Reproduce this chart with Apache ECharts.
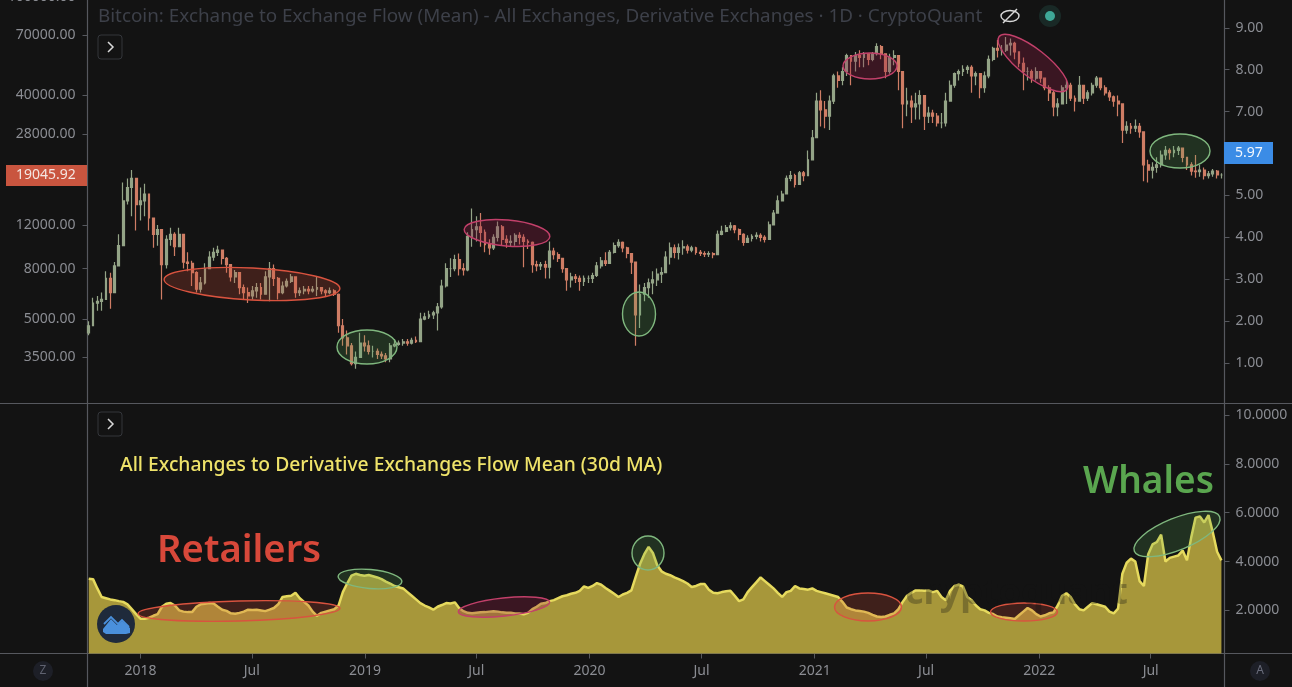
<!DOCTYPE html>
<html>
<head>
<meta charset="utf-8">
<style>
  html, body { margin: 0; padding: 0; background: #131313; }
  #main { width: 1292px; height: 687px; }
</style>
<script src="https://cdn.jsdelivr.net/npm/echarts@6/dist/echarts.min.js"></script>
</head>
<body>
<div id="main"></div>
<script>
// weekly readings, first candle is the week of 2017-10-09
const firstOpen = 4400;
const closes = [
  4700,5800,5900,6000,7300,6400,8200,9900,15000,17000,
  18500,14500,15000,16000,12800,11000,11500,8300,10500,11000,
  9800,11000,8500,8400,7700,6600,7000,8000,8900,9300,
  9500,8800,8300,7400,7700,6700,6400,6200,6500,6700,
  6300,7400,8000,7300,6400,6800,7100,7400,6400,6500,
  6600,6500,6600,6700,6500,6400,6500,6300,4700,4200,
  3900,3300,3500,4000,3900,3700,3700,3600,3550,3450,
  3900,3950,4000,4050,4000,4100,4050,5000,5100,5200,
  5300,5600,6800,8000,8000,8700,8000,7900,10800,11500,
  11800,11200,10000,9700,10700,11800,10500,10200,10300,10900,
  10700,10300,10200,8300,8200,8300,8100,9400,9100,8800,
  8000,7200,7400,7300,7100,7300,7300,7500,8200,8600,
  8400,9300,9900,10200,9700,9200,8500,5200,6300,6700,
  7000,7200,7600,7700,8900,9700,9300,9700,9800,9500,
  9700,9300,9200,9150,9200,9100,11000,11300,11700,11900,
  11500,11000,10200,10600,10800,10900,10700,10500,12000,13400,
  15000,16000,18500,19000,17500,19500,19000,22000,27000,38000,
  35000,33000,38000,48000,46000,50000,58000,55000,58000,57000,
  59000,56000,59000,63000,59000,50000,57000,58000,50000,37000,
  38000,36000,37000,40000,33000,34000,33000,31000,31000,38000,
  44000,49000,50000,51000,52000,48000,49000,43000,48000,56000,
  62000,61000,61000,64000,65000,60000,54000,50000,50000,47000,
  50000,47000,43000,41000,36000,37000,43000,44000,39000,38000,
  44000,39000,41000,44000,47000,43000,41000,39500,38000,37000,
  29000,30000,29500,30000,28500,21000,20000,20500,21000,23000,
  24000,23500,24000,24500,22500,21000,19800,19700,20000,19000,
  19300,19800,19100,19100
];
const highs = [
  4900,6100,6200,6400,7800,7700,8500,11000,17800,18500,
  20000,17500,17000,17600,14500,12800,12000,11500,10900,11700,
  11200,11700,11000,9300,8600,7800,7400,8400,9400,9700,
  9900,9500,8900,8300,7900,7700,6900,6700,6800,7000,
  7000,7800,8500,8300,7400,7100,7300,7600,7400,6700,
  6800,6800,6800,7400,6700,6600,6700,6600,6350,5000,
  4500,4000,3700,4400,4300,4100,3900,3800,3700,3650,
  4000,4150,4100,4150,4150,4200,4250,5300,5300,5400,
  5400,5800,7200,8400,8800,9100,9200,8400,11200,14000,
  13000,13400,11500,10500,11000,12400,12000,10900,10900,11100,
  11200,11000,10500,10300,8600,8500,8600,10300,9700,9300,
  8800,8000,7700,7600,7500,7500,7500,7700,8500,8900,
  9300,9500,10200,10500,10300,9800,9200,8000,6900,7000,
  7300,7800,8000,8100,9400,10200,10000,10100,10400,10000,
  9900,9800,9500,9400,9400,9300,11400,11900,12000,12300,
  12000,11600,11100,10900,11000,11200,11100,10900,12400,13800,
  15800,16500,19000,19800,19300,19800,19800,24000,29000,41000,
  42000,38000,40000,49000,50000,52000,59000,58000,60000,61000,
  60000,59000,60000,65000,64000,59000,59000,61000,58000,50000,
  43000,40000,41000,42000,40000,36000,35000,34000,34000,41000,
  46000,49500,51000,53000,53000,53000,50000,49000,50000,58000,
  63000,67000,64000,69000,68000,66000,60000,57000,52000,51000,
  52000,50000,47000,44000,42000,39000,44000,46000,45000,40000,
  48000,44000,42000,45000,48000,47000,44000,42000,40000,40000,
  36000,31500,31000,32000,31000,28500,22000,21500,22500,24000,
  25000,24500,25000,25000,24500,22500,21500,23000,21000,20500,
  19800,20200,20000,19400
];
const lows = [
  4300,4700,5400,5400,6000,5500,6400,8200,9900,14500,
  13000,11400,12500,13000,11400,9700,9900,6000,8000,9900,
  9000,9800,8000,7800,6800,6400,6400,6900,8000,8600,
  9000,8300,7700,7100,7000,6300,6000,5800,6000,6100,
  6000,6300,5900,6800,6000,6300,6700,7000,6100,6200,
  6300,6300,6400,6200,6300,6200,6300,6200,4400,3900,
  3600,3250,3150,3500,3700,3600,3500,3450,3450,3350,
  3350,3850,3900,3900,3900,3950,4000,4050,4950,5000,
  5000,4500,5500,6700,7400,7800,7500,7500,7800,9800,
  10300,9800,9300,9100,9500,10300,9900,9700,9800,9900,
  10000,8100,9600,7700,7800,7900,7300,7300,8700,8500,
  7700,6500,6700,7000,6500,6800,7000,7000,7400,8000,
  8200,8400,9200,9700,9300,8800,7600,3900,4600,5900,
  6100,6300,6800,7000,7800,8300,8800,8700,9100,9200,
  9300,9100,9000,8900,8900,8800,9100,10900,11200,11400,
  11100,10400,9900,10200,10300,10500,10300,10200,10500,12000,
  13400,15000,16000,18000,17000,17500,18000,19000,23000,27000,
  30000,29500,29000,37000,43000,44000,48000,44000,50000,52000,
  52000,53000,55000,58000,56000,47000,49000,53000,42000,29500,
  33000,31000,32000,32000,29000,31000,31000,30000,29500,30000,
  38000,43000,46000,48000,49000,41000,44000,39000,41000,47000,
  55000,57000,58000,60000,58000,56000,52000,42000,46000,45000,
  46000,45000,42000,38000,33000,33000,37000,37000,38000,34500,
  38000,37000,38000,40000,43000,42000,40000,38000,36000,33000,
  25700,28000,28000,28500,27000,18000,17800,18500,19500,20500,
  22000,22000,22500,23000,21500,20000,19000,18600,18800,18300,
  18500,18800,18500,18500
];
// All Exchanges to Derivative Exchanges flow mean, 30d MA
const flowMean = [
  3.3,3.28,2.9,2.55,2.5,2.45,2.42,2.38,2.35,2.25,
  2.05,1.85,1.66,1.66,1.7,1.78,1.85,2.15,2.27,2.3,
  2.2,2.0,1.95,1.93,1.93,2.15,2.25,2.27,2.3,2.28,
  2.15,2.03,1.98,1.88,1.86,1.9,1.95,2.03,2.02,2.03,
  2.0,1.97,2.03,2.1,2.25,2.55,2.58,2.6,2.72,2.5,
  2.35,2.2,1.95,1.78,1.9,1.95,2.0,2.05,2.2,2.75,
  3.1,3.42,3.5,3.45,3.42,3.45,3.4,3.35,3.28,3.18,
  3.1,3.0,2.95,2.9,2.75,2.6,2.45,2.3,2.2,2.12,
  2.03,2.15,2.22,2.3,2.28,2.33,2.1,1.97,1.9,1.88,
  1.9,1.92,1.93,1.95,1.97,1.95,1.92,1.9,1.9,1.87,
  1.87,1.84,1.9,2.05,2.15,2.27,2.3,2.38,2.42,2.5,
  2.58,2.62,2.68,2.72,2.8,2.98,2.92,3.0,3.12,3.05,
  2.92,2.8,2.68,2.55,2.65,2.72,2.82,3.37,3.9,4.3,
  4.6,4.35,3.85,3.6,3.5,3.44,3.35,3.28,3.2,3.1,
  2.96,3.0,3.08,3.08,2.85,2.72,2.7,2.75,2.78,2.8,
  2.6,2.38,2.45,2.75,2.95,3.15,3.35,3.2,3.05,2.9,
  2.72,2.55,2.75,2.8,3.0,2.9,2.88,2.85,2.9,2.8,
  2.75,2.7,2.65,2.6,2.55,2.35,2.12,2.05,2.0,1.98,
  1.95,1.9,1.82,1.75,1.73,1.75,1.82,1.88,2.05,2.35,
  2.6,2.72,2.82,2.82,2.8,2.82,2.75,2.8,2.55,2.42,
  2.8,3.0,3.05,2.98,2.55,2.42,2.2,2.05,2.0,1.9,
  1.85,1.75,1.72,1.7,1.68,1.65,1.8,1.95,2.1,2.0,
  1.85,1.75,1.8,1.88,1.92,2.2,2.6,2.7,2.55,2.25,
  2.05,2.0,2.15,2.3,2.25,2.2,2.15,1.95,1.88,2.07,
  3.5,3.95,4.12,4.0,3.2,3.0,4.3,4.7,4.8,5.1,
  4.0,4.15,4.2,4.25,4.45,4.05,5.0,5.8,5.85,5.6,
  5.9,5.2,4.4,4.05
];
const tickDates = ['2018-01-01','2018-07-01','2019-01-01','2019-07-01','2020-01-01','2020-07-01','2021-01-01','2021-07-01','2022-01-01','2022-07-01'];
const tickLabels = ['2018','Jul','2019','Jul','2020','Jul','2021','Jul','2022','Jul'];
const priceTicks = [100000,70000,40000,28000,12000,8000,5000,3500];
const flowTicksRight = [1,2,3,4,5,6,7,8,9];
const flowMeanTicks = [2,4,6,8,10];

const FONT = '"Noto Sans", sans-serif';
const AXIS_COLOR = '#8b8d93';
const LINE_COLOR = '#56585e';
const BG = '#131313';
const RED = ['#d9533f', 'rgba(205,75,55,0.24)'];
const PINK = ['#c2406a', 'rgba(150,30,70,0.3)'];
const GREEN = ['#7fb77e', 'rgba(90,170,90,0.2)'];

const weekStart = Date.parse('2017-10-09');
const dates = closes.map((c, i) => weekStart + i * 7 * 86400000);
const tickTimes = tickDates.map(d => Date.parse(d));
const timeMin = Date.parse('2017-10-07');
const timeMax = Date.parse('2022-10-29');

// candlestick wants [open, close, low, high]
const candles = closes.map((c, i) => {
  const o = i ? closes[i - 1] : firstOpen;
  return [dates[i], o, c, Math.min(lows[i], o, c), Math.max(highs[i], o, c)];
});

function oval(cx, cy, rx, ry, deg, color) {
  return {
    type: 'ellipse', x: cx, y: cy, rotation: deg * Math.PI / 180, z: 50,
    shape: { cx: 0, cy: 0, rx: rx, ry: ry },
    style: { fill: color[1], stroke: color[0], lineWidth: 1.4 }
  };
}
function label(text, x, y, size, fill, extra) {
  return {
    type: 'text', x: x, y: y, z: 60,
    style: Object.assign({
      text: text, fill: fill, fontSize: size, fontFamily: FONT,
      textAlign: 'left', textVerticalAlign: 'middle'
    }, extra || {})
  };
}
function chevronBtn(x, y) {
  return [
    { type: 'rect', z: 60, shape: { x: x, y: y, width: 24, height: 24, r: 3 }, style: { fill: BG, stroke: '#34363b', lineWidth: 1 } },
    { type: 'polyline', z: 61, shape: { points: [[x + 10, y + 7], [x + 15, y + 12], [x + 10, y + 17]] }, style: { stroke: '#d8d8d8', lineWidth: 1.5, fill: null } }
  ];
}
function frameLine(x1, y1, x2, y2) {
  return { type: 'line', z: 40, shape: { x1: x1, y1: y1, x2: x2, y2: y2 }, style: { stroke: LINE_COLOR, lineWidth: 1.2 } };
}

const graphics = [
  frameLine(87.5, 653, 87.5, 687),
  frameLine(1224.5, 653, 1224.5, 687),
  frameLine(0, 403.5, 87, 403.5),
  frameLine(1224, 403.5, 1292, 403.5),
  frameLine(0, 653.5, 87, 653.5),
  frameLine(1224, 653.5, 1292, 653.5),

  // top pane ovals
  oval(252, 284, 88, 16, -3, RED),
  oval(367, 347, 30, 17, 0, GREEN),
  oval(507, 233, 43, 13, -5, PINK),
  oval(639, 314, 16.5, 22, 0, GREEN),
  oval(870, 66, 27, 13, 0, PINK),
  oval(1033, 63, 43, 14, -38, PINK),
  oval(1180, 151, 30, 17, 0, GREEN),
  // lower pane ovals
  oval(239, 611, 101, 10, 1.5, RED),
  oval(370, 579, 32, 9.5, -5, GREEN),
  oval(504, 607, 46, 9, 6, PINK),
  oval(648, 553, 16, 17, 0, GREEN),
  oval(868, 607, 33.5, 14, 0, RED),
  oval(1024, 612, 33.5, 9, 0, RED),
  oval(1177, 534, 46, 16, 22, GREEN),

  label('Bitcoin: Exchange to Exchange Flow (Mean) - All Exchanges, Derivative Exchanges · 1D · CryptoQuant', 98, 17, 18.85, '#3d4049'),
  label('All Exchanges to Derivative Exchanges Flow Mean (30d MA)', 120, 466, 19.3, '#efe36a', { fontWeight: 500 }),
  label('Retailers', 157, 551, 38.2, '#d8483a', { fontWeight: 600 }),
  label('Whales', 1083, 482, 37, '#5aa64f', { fontWeight: 600 }),
  // watermark only shows over the yellow area
  label('cryptoquant', 905, 594, 36, 'rgba(19,19,19,0.3)', { fontWeight: 700 }),

  // price tags
  { type: 'rect', z: 60, shape: { x: 6, y: 165, width: 81, height: 21 }, style: { fill: '#c9553f' } },
  label('19045.92', 16, 175.5, 14, '#f4e6e2'),
  { type: 'rect', z: 60, shape: { x: 1224, y: 142, width: 49, height: 22 }, style: { fill: '#3b8ce6' } },
  label('5.97', 1235, 153, 14, '#f2f7fd'),

  // eye + status dot
  { type: 'ellipse', z: 60, shape: { cx: 1010, cy: 16, rx: 9, ry: 5.5 }, style: { fill: null, stroke: '#d9d9d9', lineWidth: 1.4 } },
  { type: 'line', z: 60, shape: { x1: 1003, y1: 23, x2: 1017, y2: 9 }, style: { stroke: '#d9d9d9', lineWidth: 1.4 } },
  { type: 'circle', z: 60, shape: { cx: 1050, cy: 16, r: 11 }, style: { fill: 'rgba(60,170,150,0.15)' } },
  { type: 'circle', z: 61, shape: { cx: 1050, cy: 16, r: 5 }, style: { fill: '#3ea897' } },

  // logo
  { type: 'circle', z: 60, shape: { cx: 116, cy: 624, r: 19 }, style: { fill: '#1f2a3b' } },
  { type: 'polygon', z: 61, shape: { points: [[103, 629], [111, 619], [117, 625], [122, 621], [130, 628], [130, 633], [126, 634], [106, 634], [103, 632]] }, style: { fill: '#4a90dc' } },
  { type: 'polyline', z: 62, shape: { points: [[104, 624], [111, 617], [118, 624], [122, 620], [129, 627]] }, style: { stroke: '#4a90dc', lineWidth: 1.8, fill: null } },

  // corner buttons
  { type: 'circle', z: 60, shape: { cx: 43, cy: 671, r: 10 }, style: { fill: '#1d1f27' } },
  label('Z', 43, 671, 12, '#5f6270', { textAlign: 'center' }),
  { type: 'circle', z: 60, shape: { cx: 1260, cy: 671, r: 10 }, style: { fill: '#1d1f27' } },
  label('A', 1260, 671, 12, '#6a6d7c', { textAlign: 'center' })
].concat(chevronBtn(98, 35), chevronBtn(98, 412));

const axisText = { color: AXIS_COLOR, fontSize: 14, fontFamily: FONT };

const chart = echarts.init(document.getElementById('main'));
chart.setOption({
  backgroundColor: BG,
  animation: false,
  graphic: graphics,
  grid: [
    { left: 87.5, right: 67.5, top: -3, height: 406.5, outerBoundsMode: 'none', show: true, borderColor: LINE_COLOR, borderWidth: 1.2 },
    { left: 87.5, right: 67.5, top: 403.5, height: 250, outerBoundsMode: 'none', show: true, borderColor: LINE_COLOR, borderWidth: 1.2 }
  ],
  // timestamps on a value axis, the time axis cannot take custom tick values
  xAxis: [
    {
      type: 'value', gridIndex: 0, min: timeMin, max: timeMax,
      axisLine: { show: false }, axisTick: { show: false }, axisLabel: { show: false }, splitLine: { show: false }
    },
    {
      type: 'value', gridIndex: 1, min: timeMin, max: timeMax,
      axisLine: { show: false },
      axisTick: { show: true, length: 5, customValues: tickTimes, lineStyle: { color: LINE_COLOR } },
      axisLabel: Object.assign({}, axisText, {
        margin: 11,
        customValues: tickTimes,
        formatter: v => tickLabels[tickTimes.indexOf(+v)]
      }),
      splitLine: { show: false }
    }
  ],
  yAxis: [
    {
      type: 'log', gridIndex: 0, position: 'left', min: 2280, max: 100000,
      axisLine: { show: false },
      axisTick: { show: true, length: 5, customValues: priceTicks, lineStyle: { color: LINE_COLOR } },
      axisLabel: Object.assign({}, axisText, { margin: 12, customValues: priceTicks, formatter: v => (+v).toFixed(2) }),
      splitLine: { show: false }, minorTick: { show: false }
    },
    {
      type: 'value', gridIndex: 0, position: 'right', min: 0.038, max: 9.735,
      axisLine: { show: false },
      axisTick: { show: true, length: 5, customValues: flowTicksRight, lineStyle: { color: LINE_COLOR } },
      axisLabel: Object.assign({}, axisText, { margin: 11, customValues: flowTicksRight, formatter: v => (+v).toFixed(2) }),
      splitLine: { show: false }
    },
    {
      type: 'value', gridIndex: 1, position: 'right', min: 0.236, max: 10.47,
      axisLine: { show: false },
      axisTick: { show: true, length: 5, customValues: flowMeanTicks, lineStyle: { color: LINE_COLOR } },
      axisLabel: Object.assign({}, axisText, { margin: 11, customValues: flowMeanTicks, formatter: v => (+v).toFixed(4) }),
      splitLine: { show: false }
    }
  ],
  series: [
    {
      type: 'candlestick', xAxisIndex: 0, yAxisIndex: 0, data: candles, barWidth: 2.4,
      encode: { x: 0, y: [1, 2, 3, 4] },
      itemStyle: { color: '#94a487', color0: '#cf7d65', borderColor: '#94a487', borderColor0: '#cf7d65', borderWidth: 1.2 }
    },
    {
      type: 'line', xAxisIndex: 1, yAxisIndex: 2, showSymbol: false, symbol: 'none',
      data: dates.map((d, i) => [d, flowMean[i]]),
      lineStyle: { color: '#e6da5e', width: 2.5 },
      areaStyle: { color: '#a7973a', opacity: 1, origin: 'start' }
    }
  ]
});
</script>
</body>
</html>
